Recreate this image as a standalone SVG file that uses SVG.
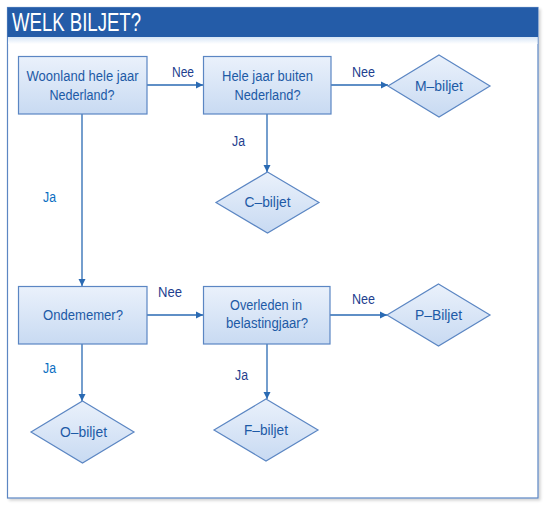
<svg xmlns="http://www.w3.org/2000/svg" width="545" height="506" viewBox="0 0 545 506">
<defs>
<linearGradient id="g" x1="0" y1="0" x2="0" y2="1">
<stop offset="0" stop-color="#eaf1fb"/>
<stop offset="1" stop-color="#c8daf2"/>
</linearGradient>
<linearGradient id="band" x1="0" y1="0" x2="0" y2="1">
<stop offset="0" stop-color="#d6e5f6"/>
<stop offset="1" stop-color="#ffffff"/>
</linearGradient>
<marker id="ah" markerWidth="8" markerHeight="8" refX="7" refY="4" orient="auto" markerUnits="userSpaceOnUse">
<path d="M0,0.5 L7,4 L0,7.5 Z" fill="#2a6ab3"/>
</marker>
<filter id="sh" x="-5%" y="-5%" width="110%" height="110%">
<feGaussianBlur in="SourceAlpha" stdDeviation="1.5"/>
<feOffset dx="1.5" dy="1.5"/>
<feComponentTransfer><feFuncA type="linear" slope="0.18"/></feComponentTransfer>
<feMerge><feMergeNode/><feMergeNode in="SourceGraphic"/></feMerge>
</filter>
</defs>
<style>
.node{fill:url(#g);stroke:#5b86c3;stroke-width:1.2}
.t{font-family:"Liberation Sans",Arial,sans-serif;font-size:15.5px;fill:#1d5aa6;text-anchor:middle}
.lbl{font-family:"Liberation Sans",Arial,sans-serif;font-size:15.5px;fill:#1f3f8f;text-anchor:middle}
.ja{fill:#0a6fc2}
.c{fill:none;stroke:#2a6ab3;stroke-width:1.3;marker-end:url(#ah)}
</style>
<rect width="545" height="506" fill="#ffffff"/>
<g id="frame">
<rect x="7.5" y="7.5" width="530.5" height="490.5" fill="#ffffff" stroke="#5b86c3" stroke-width="1.2" filter="url(#sh)"/>
<rect x="8" y="37" width="529.5" height="7" fill="url(#band)"/>
<rect x="7.5" y="7.5" width="530.5" height="29.5" fill="#245ca8"/>
<text x="12" y="31" font-family="'Liberation Sans',Arial,sans-serif" font-size="25" fill="#ffffff" textLength="129" lengthAdjust="spacingAndGlyphs">WELK BILJET?</text>
</g>
<g id="connectors">
<line class="c" x1="147" y1="85" x2="203" y2="85"/>
<line class="c" x1="331" y1="85" x2="388" y2="85"/>
<line class="c" x1="267" y1="114" x2="267" y2="172"/>
<line class="c" x1="82" y1="114" x2="82" y2="286"/>
<line class="c" x1="147" y1="315" x2="203" y2="315"/>
<line class="c" x1="330" y1="315" x2="387" y2="315"/>
<line class="c" x1="82" y1="344" x2="82" y2="401"/>
<line class="c" x1="267" y1="344" x2="267" y2="399"/>
<text class="lbl" x="183" y="77" textLength="22" lengthAdjust="spacingAndGlyphs">Nee</text>
<text class="lbl" x="363.5" y="77" textLength="23" lengthAdjust="spacingAndGlyphs">Nee</text>
<text class="lbl" x="238.5" y="146" textLength="13" lengthAdjust="spacingAndGlyphs">Ja</text>
<text class="lbl ja" x="49.5" y="202" textLength="13" lengthAdjust="spacingAndGlyphs">Ja</text>
<text class="lbl" x="170" y="297" textLength="24" lengthAdjust="spacingAndGlyphs">Nee</text>
<text class="lbl" x="363.5" y="304" textLength="23" lengthAdjust="spacingAndGlyphs">Nee</text>
<text class="lbl ja" x="49.5" y="373" textLength="13" lengthAdjust="spacingAndGlyphs">Ja</text>
<text class="lbl" x="241.5" y="380" textLength="13" lengthAdjust="spacingAndGlyphs">Ja</text>
</g>
<g id="n1">
<rect class="node" x="18.5" y="56.5" width="128.5" height="57.5"/>
<text class="t" x="82.5" y="81" textLength="112" lengthAdjust="spacingAndGlyphs">Woonland hele jaar</text>
<text class="t" x="82" y="100" textLength="65" lengthAdjust="spacingAndGlyphs">Nederland?</text>
</g>
<g id="n2">
<rect class="node" x="203.5" y="56.5" width="127.5" height="57.5"/>
<text class="t" x="267.5" y="81" textLength="91" lengthAdjust="spacingAndGlyphs">Hele jaar buiten</text>
<text class="t" x="267.5" y="100" textLength="66" lengthAdjust="spacingAndGlyphs">Nederland?</text>
</g>
<g id="m">
<polygon class="node" points="439,55 490,86 439,117 388,86"/>
<text class="t" x="439" y="91" textLength="48" lengthAdjust="spacingAndGlyphs">M–biljet</text>
</g>
<g id="cb">
<polygon class="node" points="267.5,172 319,202.5 267.5,233 216,202.5"/>
<text class="t" x="267.5" y="207" textLength="46" lengthAdjust="spacingAndGlyphs">C–biljet</text>
</g>
<g id="n3">
<rect class="node" x="18.5" y="286.5" width="128.5" height="57.5"/>
<text class="t" x="83" y="320" textLength="80" lengthAdjust="spacingAndGlyphs">Ondememer?</text>
</g>
<g id="n4">
<rect class="node" x="203.5" y="286.5" width="126.5" height="57.5"/>
<text class="t" x="266" y="310" textLength="72" lengthAdjust="spacingAndGlyphs">Overleden in</text>
<text class="t" x="267" y="328" textLength="82" lengthAdjust="spacingAndGlyphs">belastingjaar?</text>
</g>
<g id="pb">
<polygon class="node" points="438.5,284 490,315 438.5,346 387,315"/>
<text class="t" x="438.5" y="320" textLength="47" lengthAdjust="spacingAndGlyphs">P–Biljet</text>
</g>
<g id="ob">
<polygon class="node" points="82.5,401 134,432 82.5,463 31,432"/>
<text class="t" x="83.5" y="437" textLength="47" lengthAdjust="spacingAndGlyphs">O–biljet</text>
</g>
<g id="fb">
<polygon class="node" points="266,399 318,430 266,461 214,430"/>
<text class="t" x="266" y="435" textLength="44" lengthAdjust="spacingAndGlyphs">F–biljet</text>
</g>
</svg>
